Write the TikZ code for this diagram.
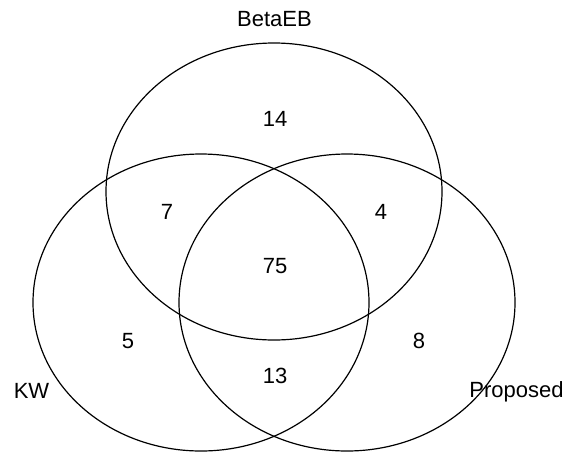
\documentclass[tikz,border=0pt]{standalone}
\usepackage{fontspec}
\setmainfont{Liberation Sans}
\usetikzlibrary{shapes.geometric}
\begin{document}
\begin{tikzpicture}[x=1pt,y=-1pt,
  setshape/.style={ellipse, draw=black, line width=1.2pt, inner sep=0pt, outer sep=0pt,
    minimum width=336pt, minimum height=297pt},
  lbl/.style={font=\fontsize{22}{26}\selectfont, anchor=base, inner sep=0pt}]
\useasboundingbox (0,0) rectangle (569,453);
\node[setshape] (beta) at (274,191.5) {};
\node[setshape] (kw) at (201,302.5) {};
\node[setshape] (prop) at (347,302.5) {};
\node[lbl] (tbeta) at (274.5,26) {BetaEB};
\node[lbl] (tkw) at (31.5,398) {KW};
\node[lbl] (tprop) at (516.5,397) {Proposed};
\node[lbl] (n14) at (275,126) {14};
\node[lbl] (n7) at (167,219) {7};
\node[lbl] (n4) at (381,219) {4};
\node[lbl] (n75) at (275,273) {75};
\node[lbl] (n5) at (128,348) {5};
\node[lbl] (n8) at (419,348) {8};
\node[lbl] (n13) at (275,383) {13};
\end{tikzpicture}
\end{document}
